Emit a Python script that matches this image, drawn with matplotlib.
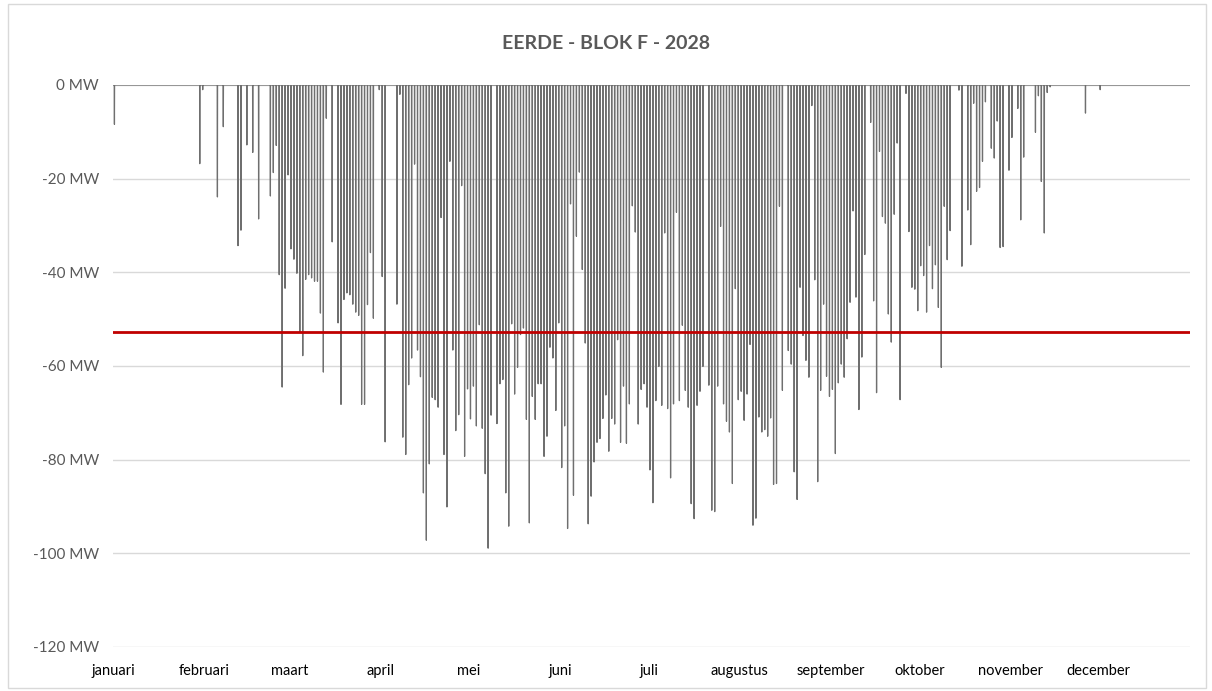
import numpy as np
import matplotlib
matplotlib.use("Agg")
import matplotlib.pyplot as plt
from matplotlib.patches import Rectangle

plt.rcParams['font.family'] = ['Lato', 'DejaVu Sans']

# day of year (0 = 1 januari 2028) with the lowest value of that day in MW
days = [0, 29, 30, 35, 37, 42, 43, 45, 47, 49, 53, 54, 55, 56, 57, 58, 59, 60,
        61, 62, 63, 64, 65, 66, 67, 68, 69, 70, 71, 72, 74, 76, 77, 78, 79, 80,
        81, 82, 83, 84, 85, 86, 87, 88, 90, 91, 92, 96, 97, 98, 99, 100,
        101, 102, 103, 104, 105, 106, 107, 108, 109, 110, 111, 112, 113, 114,
        115, 116, 117, 118, 119, 120, 121, 122, 123, 124, 125, 126, 127, 128,
        130, 131, 132, 133, 134, 135, 136, 137, 138, 139, 140, 141, 142, 143,
        144, 145, 146, 147, 148, 149, 150, 151, 152, 153, 154, 155, 156, 157,
        158, 159, 160, 161, 162, 163, 164, 165, 166, 167, 168, 169, 170, 171,
        172, 173, 174, 175, 176, 177, 178, 179, 180, 181, 182, 183, 184, 185,
        186, 187, 188, 189, 190, 191, 192, 193, 194, 195, 196, 197, 198, 199,
        200, 202, 203, 204, 205, 206, 207, 208, 209, 210, 211, 212, 213, 214,
        215, 216, 217, 218, 219, 220, 221, 222, 223, 224, 225, 226, 227, 229,
        230, 231, 232, 233, 234, 235, 236, 237, 238, 239, 240, 241, 242, 243,
        244, 245, 246, 247, 248, 249, 250, 251, 252, 253, 254, 255, 257, 258,
        259, 260, 261, 262, 263, 264, 265, 266, 267, 269, 270, 271, 272, 273,
        274, 275, 276, 277, 278, 279, 280, 281, 282, 283, 284, 287, 288, 290,
        291, 292, 293, 294, 295, 296, 298, 299, 300, 301, 302, 304, 305, 307,
        308, 309, 313, 314, 315, 316, 317, 318, 330, 335]
min_mw = [-8.4, -16.8, -1.0, -23.9, -8.9, -34.3, -31.0, -12.8, -14.4, -28.6,
          -23.7, -18.7, -12.9, -40.5, -64.5, -43.4, -19.2, -35.0, -37.2, -40.2,
          -52.8, -57.8, -41.5, -40.5, -41.2, -41.9, -41.9, -48.7, -61.3, -7.1,
          -33.5, -50.8, -68.2, -45.8, -44.4, -44.8, -46.8, -48.5, -49.2, -68.2,
          -68.2, -46.9, -35.8, -49.8, -1.0, -40.9, -76.2, -46.8, -2.0, -75.2,
          -78.9, -64.0, -58.3, -16.9, -56.6, -62.3, -87.1, -97.2, -80.9, -66.7,
          -67.2, -68.8, -28.3, -78.9, -90.1, -16.3, -56.6, -73.8, -70.4, -21.5,
          -79.3, -64.9, -71.3, -64.3, -72.8, -51.2, -73.3, -83.0, -98.9, -70.5,
          -72.3, -63.8, -62.9, -87.1, -94.2, -51.0, -66.0, -60.3, -53.3, -51.9,
          -71.4, -93.5, -66.5, -71.4, -63.8, -63.8, -79.3, -75.0, -56.0, -58.3,
          -69.5, -50.8, -81.7, -72.8, -94.7, -25.4, -87.6, -32.3, -18.6, -39.4,
          -55.1, -93.7, -87.8, -80.5, -76.3, -75.5, -71.2, -66.2, -78.2, -71.2,
          -72.4, -54.4, -76.3, -64.3, -76.5, -68.1, -25.8, -31.4, -72.4, -65.0,
          -63.8, -68.8, -82.2, -89.2, -67.4, -60.1, -68.4, -31.6, -69.1, -83.9,
          -68.1, -27.2, -67.4, -51.3, -65.2, -68.8, -89.4, -92.6, -68.4, -65.4,
          -60.1, -64.1, -90.8, -91.1, -64.3, -30.2, -68.1, -71.8, -74.1, -85.1,
          -43.5, -67.2, -65.4, -71.6, -66.0, -55.4, -94.0, -92.5, -70.9, -74.1,
          -73.6, -75.0, -71.1, -85.3, -85.1, -25.9, -65.2, -56.7, -59.6, -82.6,
          -88.5, -43.2, -53.5, -58.8, -62.4, -4.4, -41.6, -84.7, -65.2, -46.8,
          -62.2, -66.5, -65.0, -78.7, -63.6, -59.6, -62.4, -54.2, -46.4, -26.9,
          -45.3, -69.3, -58.1, -36.2, -8.0, -46.1, -65.7, -14.2, -28.1, -29.5,
          -48.9, -54.9, -27.6, -12.4, -67.2, -1.8, -31.3, -43.2, -43.6, -48.2,
          -38.6, -40.7, -48.5, -34.3, -43.5, -38.4, -47.5, -60.3, -25.9, -37.3,
          -31.1, -1.1, -38.7, -26.7, -34.1, -3.9, -22.7, -21.9, -16.3, -3.6,
          -13.5, -15.6, -7.7, -34.7, -34.5, -18.2, -11.2, -5.0, -28.8, -15.4,
          -10.1, -2.3, -20.6, -31.6, -1.6, -0.4, -6.0, -1.0]

limit_mw = -52.7
n_days = 366
month_start = [0, 31, 60, 91, 121, 152, 182, 213, 244, 274, 305, 335]
month_names = ['januari', 'februari', 'maart', 'april', 'mei', 'juni', 'juli',
               'augustus', 'september', 'oktober', 'november', 'december']
y_ticks = [0, -20, -40, -60, -80, -100, -120]

profile = np.zeros(n_days)
profile[days] = min_mw

# one dip per day, back to zero in between
line_x = []
line_y = []
for d in range(n_days):
    line_x += [d + 0.45, d + 0.5, d + 0.55]
    line_y += [0, profile[d], 0]
line_x = [0] + line_x + [n_days]
line_y = [0] + line_y + [0]

fig = plt.figure(figsize=(12.12, 6.91), dpi=100)
fig.patches.append(Rectangle((0.007, 0.004), 0.988, 0.99, transform=fig.transFigure,
                             fill=False, edgecolor='#d9d9d9', linewidth=1))
ax = fig.add_axes([0.0932, 0.0637, 0.8886, 0.8133])

ax.plot(line_x, line_y, color='#6f6f6f', linewidth=0.9, zorder=3)
ax.axhline(limit_mw, color='#c00000', linewidth=2, zorder=4)

ax.set_xlim(0, n_days)
ax.set_ylim(-120, 0)
ax.set_yticks(y_ticks)
ax.set_yticklabels([f'{v} MW' for v in y_ticks])
ax.set_xticks(month_start)
ax.set_xticklabels(month_names)
ax.tick_params(axis='y', length=0, pad=10, labelsize=11, labelcolor='#595959')
ax.tick_params(axis='x', length=0, pad=12, labelsize=10.5, labelcolor='#000000')
ax.grid(axis='y', color='#d9d9d9', linewidth=1)
ax.set_axisbelow(True)
for s in ax.spines.values():
    s.set_visible(False)

fig.text(0.5, 0.937, 'EERDE - BLOK F - 2028', ha='center', va='center',
         fontsize=14, fontweight='bold', color='#595959')

fig.savefig('out.png', dpi=100)
